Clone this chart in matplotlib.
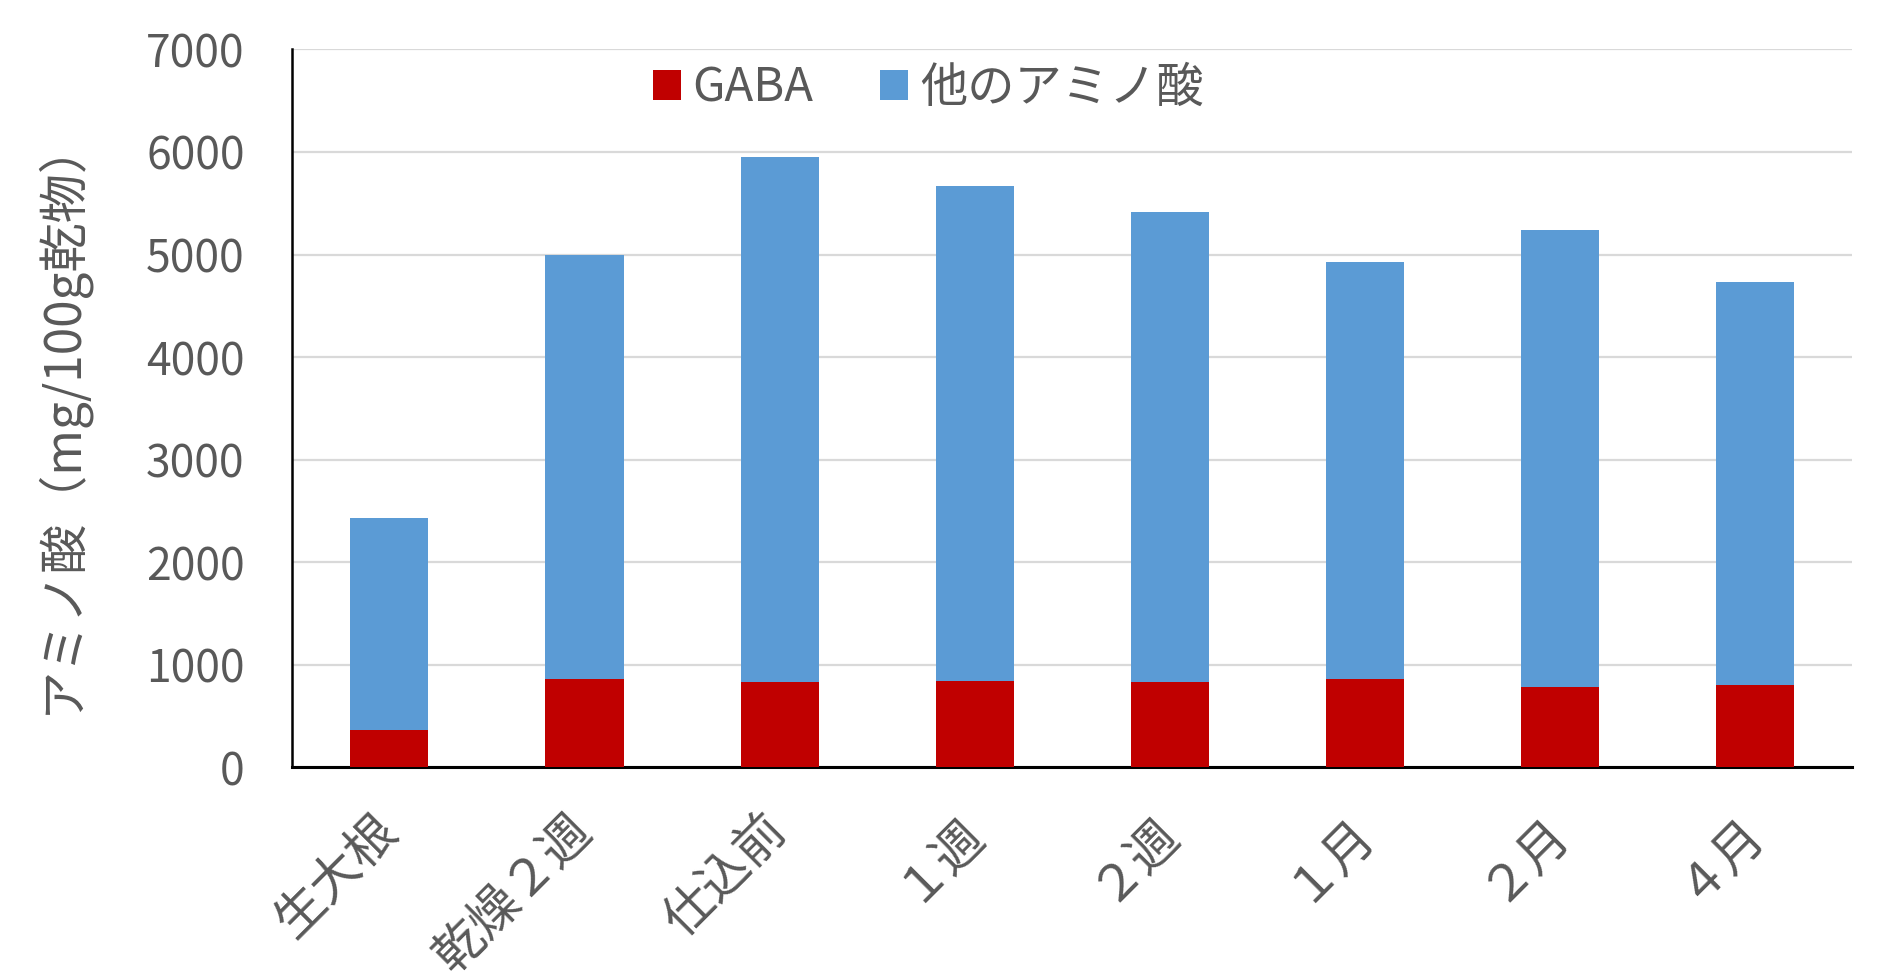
import numpy as np
import matplotlib
matplotlib.use("Agg")
import matplotlib.pyplot as plt

plt.rcParams['font.family'] = ['Noto Sans CJK JP', 'DejaVu Sans']

categories = ["生大根", "乾燥２週", "仕込前", "１週", "２週", "１月", "２月", "４月"]
gaba = [365, 860, 825, 840, 825, 860, 780, 800]
other = [2060, 4140, 5130, 4830, 4585, 4070, 4455, 3930]
series_names = ["GABA", "他のアミノ酸"]
yticks = [0, 1000, 2000, 3000, 4000, 5000, 6000, 7000]

gray = '#595959'

fig = plt.figure(figsize=(18.92, 9.8), dpi=100)
ax = fig.add_axes([0.1543, 0.2173, 0.979 - 0.1543, 0.9495 - 0.2173])

x = np.arange(len(categories))
ax.bar(x, gaba, width=0.4, color='#C00000', label=series_names[0], zorder=3)
ax.bar(x, other, width=0.4, bottom=gaba, color='#5B9BD5', label=series_names[1], zorder=3)

ax.set_xlim(-0.5, len(categories) - 0.5)
ax.set_ylim(0, 7000)
ax.set_yticks(yticks)
ax.set_yticklabels([str(v) for v in yticks])
ax.yaxis.grid(True, color='#D9D9D9', linewidth=1.6, zorder=0)
ax.set_axisbelow(True)

for s in ['top', 'right']:
    ax.spines[s].set_visible(False)
ax.spines['left'].set_linewidth(1.8)
ax.spines['bottom'].set_linewidth(2.2)
ax.spines['left'].set_color('black')
ax.spines['bottom'].set_color('black')

ax.tick_params(axis='y', length=0, pad=34, labelsize=32, labelcolor=gray)
ax.tick_params(axis='x', length=0, pad=40, labelsize=36, labelcolor=gray)
ax.set_xticks(x)
ax.set_xticklabels(categories, rotation=45, ha='right', va='center', rotation_mode='anchor')

ax.set_ylabel("アミノ酸（mg/100g乾物）", fontsize=35.5, color=gray)
ax.yaxis.set_label_coords(-0.131, 0.49)

ax.legend(loc='center', bbox_to_anchor=(0.4905, 0.910), bbox_transform=fig.transFigure,
          ncol=2, frameon=False, fontsize=34, handlelength=0.6, handleheight=0.6,
          handletextpad=0.25, columnspacing=1.4, labelcolor=gray)

fig.savefig('out.png', dpi=100)
